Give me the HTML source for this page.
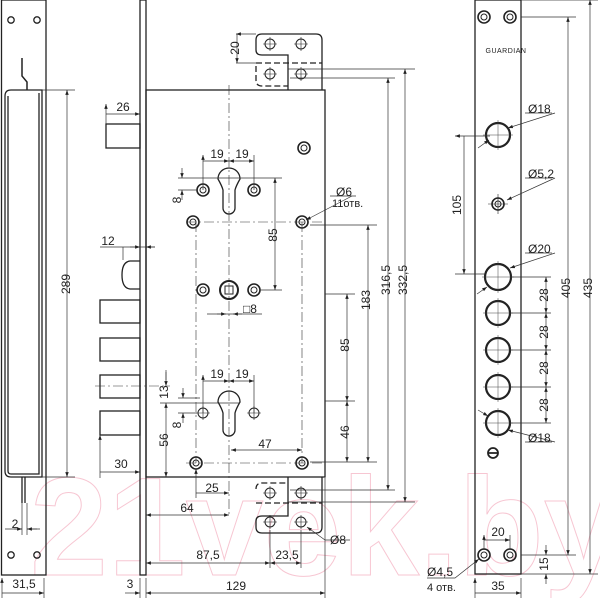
<!DOCTYPE html>
<html><head><meta charset="utf-8"><style>
html,body{margin:0;padding:0;background:#fff}
svg{display:block}
text{font-family:"Liberation Sans",sans-serif;font-size:12px;fill:#222}
</style></head><body>
<svg width="600" height="598" viewBox="0 0 600 598" xmlns="http://www.w3.org/2000/svg">
<defs>
<marker id="a" viewBox="0 0 10 10" refX="10" refY="5" markerWidth="7" markerHeight="7" orient="auto-start-reverse"><path d="M0,1.5 L10,5 L0,8.5z" fill="#222"/></marker>
<g id="h"><circle r="6" fill="none" stroke="#222" stroke-width="1.6"/><circle r="3" fill="none" stroke="#222" stroke-width="1"/></g>
<g id="p"><circle r="5" fill="none" stroke="#222" stroke-width="1"/><path d="M-7,0H7M0,-7V7" stroke="#222" stroke-width="0.6"/></g>
<g id="big"><circle r="12" fill="none" stroke="#222" stroke-width="2.2"/><path d="M-15,0H15M0,-15V15" stroke="#444" stroke-width="0.5"/></g>
</defs>
<text x="30" y="575" font-size="140" style="font-size:140px;fill:none;stroke:#f7c6d2;stroke-width:1;font-weight:bold">21vek.by</text>

<g fill="none" stroke="#222" stroke-width="1.3">
<rect x="1.5" y="0" width="44.5" height="575"/>
<path d="M5,96 Q5,90 11,90 H42 V477 H11 Q5,477 5,471 Z"/>
<path d="M8,96 V471 Q8,474 11,474 H39 V93"/>
<path d="M22,58 V76 L27,82 V90" stroke-width="1.5"/>
<circle cx="11" cy="20" r="3.2"/><circle cx="37" cy="20" r="3.2"/>
<circle cx="11" cy="555" r="3.2"/><circle cx="37" cy="555" r="3.2"/>
<path d="M22,477 V503 M25,477 V503"/>
<rect x="140" y="0" width="6" height="575"/>
<rect x="146" y="90" width="179" height="387"/>
<rect x="106" y="124" width="34" height="24"/>
<path d="M140,261 H130 Q122,262 122,275 Q122,288 130,289 H140"/>
<rect x="100" y="300" width="40" height="23"/>
<rect x="100" y="338" width="40" height="23"/>
<rect x="100" y="375" width="40" height="23"/>
<rect x="100" y="411" width="40" height="24"/>
<path d="M322,90 V40 Q322,34 316,34 H262 Q256,34 256,40 V50 Q256,55 262,55 H288 V90"/>
<path d="M256,63 H322 M256,66 V80 Q256,86 262,86 H288" stroke-dasharray="6,3"/>
<path d="M322,477 V527 Q322,533 316,533 H262 Q256,533 256,527 V521 Q256,516 262,516 H288 V477"/>
<path d="M256,503 H322 M256,489 Q256,483 262,483 H288" stroke-dasharray="6,3"/>
<path d="M218,179 A11,11 0 1 1 240,179 Q236,186 235,190 V208 A6,6 0 0 1 223,208 V190 Q222,186 218,179Z"/>
<path d="M218,402 A11,11 0 1 1 240,402 Q236,409 235,413 V430 A6,6 0 0 1 223,430 V413 Q222,409 218,402Z"/>
<rect x="475" y="0" width="46" height="574"/>
</g>
<g fill="none" stroke="#222">
<circle cx="229" cy="290" r="9" stroke-width="2"/><rect x="225" y="286" width="8" height="8" stroke-width="1"/>
<path d="M493,448 A5,5 0 1 0 493,458 A5,5 0 1 0 493,448Z M488,453 H498" stroke-width="1.8"/>
</g>
<use href="#h" x="304" y="148"/><use href="#h" x="203" y="190"/><use href="#h" x="254" y="190"/>
<use href="#h" x="193" y="222"/><use href="#h" x="302" y="222"/>
<use href="#h" x="203" y="290"/><use href="#h" x="254" y="290"/>
<use href="#h" x="196" y="463"/><use href="#h" x="302" y="463"/>
<use href="#p" x="203" y="413"/><use href="#p" x="254" y="413"/>
<use href="#p" x="270" y="44"/><use href="#p" x="301" y="44"/>
<use href="#p" x="270" y="74"/><use href="#p" x="301" y="74"/>
<use href="#p" x="270" y="493"/><use href="#p" x="301" y="493"/>
<use href="#p" x="270" y="522"/><use href="#p" x="301" y="522"/>
<use href="#h" x="484" y="17"/><use href="#h" x="510" y="17"/>
<use href="#h" x="484" y="555"/><use href="#h" x="510" y="555"/>
<use href="#big" x="498" y="135"/><use href="#h" x="498" y="204"/>
<path d="M488,204H508M498,194V214" stroke="#222" stroke-width="0.6"/>
<g><circle cx="498" cy="277" r="13" fill="none" stroke="#222" stroke-width="2.2"/><path d="M482,277H514M498,261V293" stroke="#444" stroke-width="0.5"/></g>
<use href="#big" x="498" y="313"/><use href="#big" x="498" y="350"/><use href="#big" x="498" y="387"/><use href="#big" x="498" y="423"/>
<text x="506" y="53" text-anchor="middle" style="font-size:7px;letter-spacing:0.5px">GUARDIAN</text>

<g stroke="#333" stroke-width="0.6" fill="none" stroke-dasharray="10,3,2,3">
<path d="M229,85 V515 M196,222 V463 M302,222 V463 M186,222 H325 M186,463 H325 M95,386 H170"/>
</g>
<g stroke="#333" stroke-width="0.7" fill="none">
<path d="M42,90 H75 M42,477 H75"/>
<path d="M67,90 V477" marker-start="url(#a)" marker-end="url(#a)"/>
<path d="M22,503 V535 M27,503 V535 M5,529 H22 M27,529 H40"/>
<path d="M14,529 H22" marker-end="url(#a)"/><path d="M37,529 H27" marker-end="url(#a)"/>
<path d="M2,578 V598 M44,578 V598 M2,593 H44" marker-start="url(#a)" marker-end="url(#a)"/>
<path d="M106,104 V124 M106,114 H140" marker-start="url(#a)" marker-end="url(#a)"/>
<path d="M100,247 H155 M123,247 V260"/><path d="M130,247 H140" marker-end="url(#a)"/><path d="M155,247 H146" marker-end="url(#a)"/>
<path d="M100,435 V478 M100,472 H140" marker-start="url(#a)" marker-end="url(#a)"/>
<path d="M160,403 H240 M166,370 V380" /><path d="M166,372 V386" marker-end="url(#a)"/><path d="M166,403 V477" marker-start="url(#a)" marker-end="url(#a)"/>
<path d="M140,578 V598 M146,578 V598 M325,478 V598"/><path d="M125,593 H140" marker-end="url(#a)"/>
<path d="M146,593 H325" marker-start="url(#a)" marker-end="url(#a)"/>
<path d="M146,563 H270" marker-start="url(#a)" marker-end="url(#a)"/><path d="M270,563 H301" marker-start="url(#a)" marker-end="url(#a)"/>
<path d="M270,530 V568 M301,530 V568"/>
<path d="M146,515 H229" marker-start="url(#a)" marker-end="url(#a)"/>
<path d="M196,469 V498 M196,493 H229" marker-start="url(#a)" marker-end="url(#a)"/>
<path d="M231,450 H302" marker-start="url(#a)" marker-end="url(#a)"/>
<path d="M203,155 V190 M254,155 V190 M203,161 H229" marker-start="url(#a)" marker-end="url(#a)"/><path d="M229,161 H254" marker-start="url(#a)" marker-end="url(#a)"/>
<path d="M203,375 V413 M254,375 V413 M203,381 H229" marker-start="url(#a)" marker-end="url(#a)"/><path d="M229,381 H254" marker-start="url(#a)" marker-end="url(#a)"/>
<path d="M178,178 H282 M178,190 H197 M182,168 V178" marker-end="url(#a)"/><path d="M182,200 V190" marker-end="url(#a)"/>
<path d="M178,398 H200 M178,413 H197 M183,388 V398" marker-end="url(#a)"/><path d="M183,423 V413" marker-end="url(#a)"/>
<path d="M275,178 V290" marker-start="url(#a)" marker-end="url(#a)"/><path d="M260,290 H282"/>
<path d="M207,314 H262"/><path d="M217,314 H226" marker-end="url(#a)"/><path d="M242,314 H233" marker-end="url(#a)"/>
<path d="M236,34 H256 M236,63 H256 M237,34 V63" marker-start="url(#a)" marker-end="url(#a)"/>
<path d="M288,69 H415 M290,78 H395 M290,490 H395 M288,502 H415"/>
<path d="M405,69 V502" marker-start="url(#a)" marker-end="url(#a)"/>
<path d="M388,78 V490" marker-start="url(#a)" marker-end="url(#a)"/>
<path d="M310,225 H377 M310,462 H377 M325,294 H355 M325,401 H355"/>
<path d="M368,225 V462" marker-start="url(#a)" marker-end="url(#a)"/>
<path d="M347,294 V401" marker-start="url(#a)" marker-end="url(#a)"/><path d="M347,401 V462" marker-start="url(#a)" marker-end="url(#a)"/>
<path d="M352,196 L306,220" marker-end="url(#a)"/><path d="M330,196 H356"/>
<path d="M325,540 L307,527" marker-end="url(#a)"/><path d="M325,540 H350"/>
<path d="M455,136 H490 M455,274 H485 M464,136 V274" marker-start="url(#a)" marker-end="url(#a)"/>
<path d="M521,17 H576 M521,555 H576 M521,0 H598 M521,574 H598"/>
<path d="M568,17 V555" marker-start="url(#a)" marker-end="url(#a)"/>
<path d="M590,0 V574" marker-start="url(#a)" marker-end="url(#a)"/>
<path d="M511,277 H551 M511,313 H551 M511,350 H551 M511,387 H551 M511,423 H551"/>
<path d="M546,277 V313" marker-start="url(#a)" marker-end="url(#a)"/><path d="M546,313 V350" marker-start="url(#a)" marker-end="url(#a)"/>
<path d="M546,350 V387" marker-start="url(#a)" marker-end="url(#a)"/><path d="M546,387 V423" marker-start="url(#a)" marker-end="url(#a)"/>
<path d="M546,545 V555" marker-end="url(#a)"/><path d="M546,584 V574" marker-end="url(#a)"/>
<path d="M484,535 V550 M510,535 V550 M484,540 H510" marker-start="url(#a)" marker-end="url(#a)"/>
<path d="M475,578 V598 M521,578 V598 M475,593 H521" marker-start="url(#a)" marker-end="url(#a)"/>
<path d="M555,113 L508,128" marker-end="url(#a)"/><path d="M525,113 H552"/>
<path d="M478,148 L489,140" marker-end="url(#a)"/>
<path d="M555,178 L507,200" marker-end="url(#a)"/><path d="M525,178 H552"/>
<path d="M555,253 L510,268" marker-end="url(#a)"/><path d="M525,253 H552"/><path d="M477,294 L487,287" marker-end="url(#a)"/>
<path d="M555,442 L508,430" marker-end="url(#a)"/><path d="M525,442 H552"/><path d="M478,410 L488,416" marker-end="url(#a)"/>
<path d="M427,578 H455 L479,559" marker-end="url(#a)"/>
</g>
<g>
<text x="70" y="284" transform="rotate(-90 70 284)" text-anchor="middle">289</text>
<text x="15" y="528" text-anchor="middle">2</text>
<text x="24" y="588" text-anchor="middle">31,5</text>
<text x="123" y="111" text-anchor="middle">26</text>
<text x="108" y="245" text-anchor="middle">12</text>
<text x="121" y="468" text-anchor="middle">30</text>
<text x="130" y="588" text-anchor="middle">3</text>
<text x="236" y="590" text-anchor="middle">129</text>
<text x="208" y="559" text-anchor="middle">87,5</text>
<text x="287" y="559" text-anchor="middle">23,5</text>
<text x="187" y="512" text-anchor="middle">64</text>
<text x="212" y="492" text-anchor="middle">25</text>
<text x="265" y="448" text-anchor="middle">47</text>
<text x="217" y="158" text-anchor="middle">19</text><text x="242" y="158" text-anchor="middle">19</text>
<text x="217" y="378" text-anchor="middle">19</text><text x="242" y="378" text-anchor="middle">19</text>
<text x="181" y="200" transform="rotate(-90 181 200)" text-anchor="middle">8</text>
<text x="181" y="425" transform="rotate(-90 181 425)" text-anchor="middle">8</text>
<text x="168" y="392" transform="rotate(-90 168 392)" text-anchor="middle">13</text>
<text x="168" y="440" transform="rotate(-90 168 440)" text-anchor="middle">56</text>
<text x="277" y="235" transform="rotate(-90 277 235)" text-anchor="middle">85</text>
<text x="243" y="313">□8</text>
<text x="239" y="48" transform="rotate(-90 239 48)" text-anchor="middle">20</text>
<text x="336" y="196">Ø6</text>
<text x="332" y="207" style="font-size:11px">11отв.</text>
<text x="330" y="544">Ø8</text>
<text x="349" y="345" transform="rotate(-90 349 345)" text-anchor="middle">85</text>
<text x="349" y="432" transform="rotate(-90 349 432)" text-anchor="middle">46</text>
<text x="370" y="300" transform="rotate(-90 370 300)" text-anchor="middle">183</text>
<text x="390" y="280" transform="rotate(-90 390 280)" text-anchor="middle">316,5</text>
<text x="407" y="280" transform="rotate(-90 407 280)" text-anchor="middle">332,5</text>
<text x="461" y="205" transform="rotate(-90 461 205)" text-anchor="middle">105</text>
<text x="528" y="113">Ø18</text>
<text x="528" y="178">Ø5,2</text>
<text x="528" y="253">Ø20</text>
<text x="528" y="442">Ø18</text>
<text x="548" y="295" transform="rotate(-90 548 295)" text-anchor="middle">28</text>
<text x="548" y="332" transform="rotate(-90 548 332)" text-anchor="middle">28</text>
<text x="548" y="368" transform="rotate(-90 548 368)" text-anchor="middle">28</text>
<text x="548" y="405" transform="rotate(-90 548 405)" text-anchor="middle">28</text>
<text x="570" y="288" transform="rotate(-90 570 288)" text-anchor="middle">405</text>
<text x="592" y="288" transform="rotate(-90 592 288)" text-anchor="middle">435</text>
<text x="548" y="564" transform="rotate(-90 548 564)" text-anchor="middle">15</text>
<text x="498" y="536" text-anchor="middle">20</text>
<text x="427" y="576">Ø4,5</text>
<text x="427" y="591" style="font-size:11px">4 отв.</text>
<text x="498" y="590" text-anchor="middle">35</text>
</g>
</svg>
</body></html>
